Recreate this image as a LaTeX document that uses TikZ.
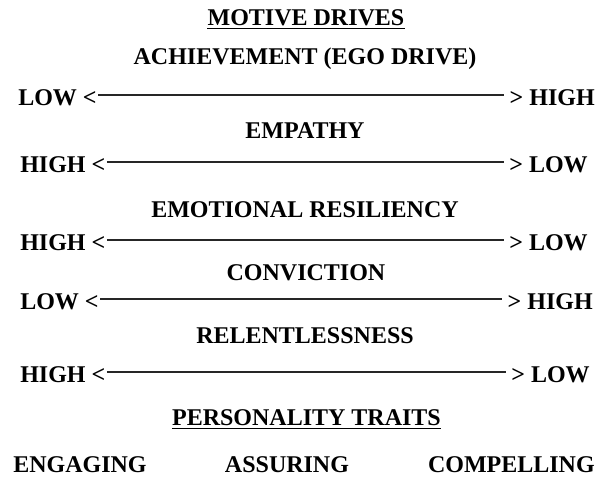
\documentclass[tikz,border=0pt]{standalone}
\usepackage{fontspec}
\setmainfont{Liberation Serif}
\usepackage{tikz}
\tikzstyle{Head}=[inner sep=0pt,font=\fontsize{18}{22}\selectfont\bfseries]
\tikzstyle{Title}=[Head,text depth=2.6pt]
\tikzstyle{End}=[Head,text height=15pt,text depth=0pt]
\tikzstyle{Bar}=[draw=black!85,line width=0.8pt,shorten >=4pt,shorten <=1pt]
\tikzstyle{Rule}=[draw=black,line width=1.1pt]

\begin{document}
\begin{tikzpicture}[x=0.75pt,y=-0.75pt]
        \useasboundingbox(0,0)rectangle(607,476);
        \node[Title,anchor=base](md)at(306,25){MOTIVE DRIVES};
        \draw[Rule](md.south west)--(md.south east);
        \node[Head,anchor=base](ach)at(305,64){ACHIEVEMENT (EGO DRIVE)};
        \node[End,anchor=base west](l1)at(18,105){LOW <};
        \node[End,anchor=base east](r1)at(595,105){> HIGH};
        \node[Head,anchor=base](emp)at(305,138){EMPATHY};
        \node[End,anchor=base west](l2)at(20,172){HIGH <};
        \node[End,anchor=base east](r2)at(588,172){> LOW};
        \node[Head,anchor=base](res)at(305,217){EMOTIONAL RESILIENCY};
        \node[End,anchor=base west](l3)at(20,250){HIGH <};
        \node[End,anchor=base east](r3)at(588,250){> LOW};
        \node[Head,anchor=base](con)at(306,280){CONVICTION};
        \node[End,anchor=base west](l4)at(20,309){LOW <};
        \node[End,anchor=base east](r4)at(593,309){> HIGH};
        \node[Head,anchor=base](rel)at(305,343){RELENTLESSNESS};
        \node[End,anchor=base west](l5)at(20,382){HIGH <};
        \node[End,anchor=base east](r5)at(590,382){> LOW};
        \draw[Bar](l1)--(r1);
        \draw[Bar](l2)--(r2);
        \draw[Bar](l3)--(r3);
        \draw[Bar](l4)--(r4);
        \draw[Bar](l5)--(r5);
        \node[Title,anchor=base](pt)at(306.5,425){PERSONALITY TRAITS};
        \draw[Rule](pt.south west)--(pt.south east);
        \node[Head,anchor=base west](eng)at(13,472){ENGAGING};
        \node[Head,anchor=base](asr)at(287,472){ASSURING};
        \node[Head,anchor=base east](cmp)at(595,472){COMPELLING};
    \end{tikzpicture}
\end{document}
